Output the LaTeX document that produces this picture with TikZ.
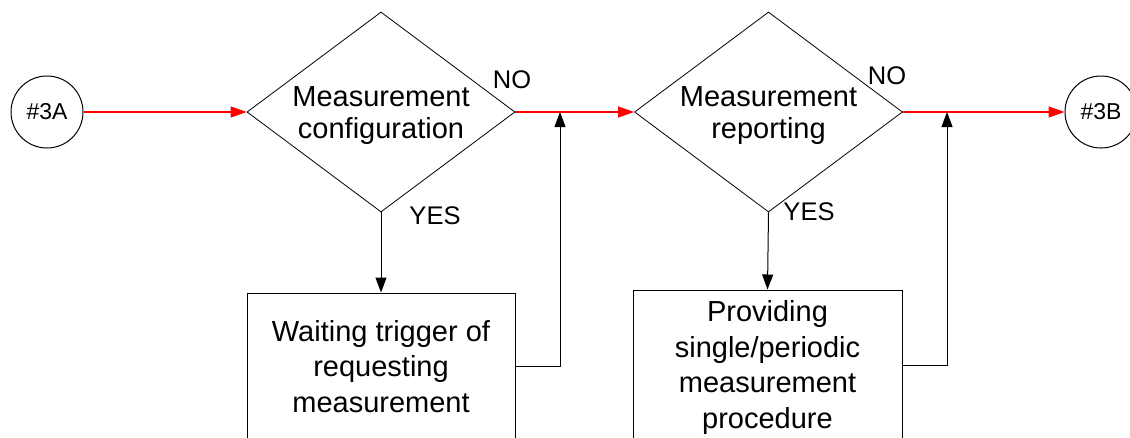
\documentclass[tikz,border=0pt]{standalone}
\usepackage{fontspec}
\setmainfont{Liberation Sans}
\usetikzlibrary{shapes.geometric,arrows.meta}
\newcommand{\topstrut}{\rule{0pt}{27pt}}
\tikzset{
  conn/.style={circle,draw,line width=1pt,minimum size=72pt,inner sep=0pt,font=\fontsize{23}{26}\selectfont},
  decision/.style={diamond,draw,line width=0.8pt,aspect=1.34,inner sep=0pt,minimum width=268pt,minimum height=200pt,align=center,font=\fontsize{29}{32.5}\selectfont},
  procbox/.style={rectangle,draw,line width=1pt,inner sep=0pt,align=center,font=\fontsize{29}{35.5}\selectfont},
  lbl/.style={inner sep=0pt,font=\fontsize{25.5}{28}\selectfont},
  redarr/.style={draw=red,line width=1.2pt,-{Triangle[length=16pt,width=11pt]},red},
  blkarr/.style={draw=black,line width=1pt,-{Triangle[length=15pt,width=11pt]}},
}
\begin{document}
\begin{tikzpicture}[x=1pt,y=-1pt]
\useasboundingbox (0,0) rectangle (1130,437);
\node[conn] (c3a) at (47,112) {\#3A};
\node[conn] (c3b) at (1101,112) {\#3B};
\node[decision] (d1) at (381,112) {\topstrut Measurement\\configuration};
\node[decision] (d2) at (768.5,112) {\topstrut Measurement\\reporting};
\node[procbox,minimum width=268pt,minimum height=147pt] (b1) at (381,366.5) {Waiting trigger of\\requesting\\measurement};
\node[procbox,minimum width=269pt,minimum height=150pt] (b2) at (767.5,365) {\rule{0pt}{26pt}Providing\\single/periodic\\measurement\\procedure};
\node[lbl] (no1) at (512,80) {NO};
\node[lbl] (yes1) at (435,216) {YES};
\node[lbl] (no2) at (887,76) {NO};
\node[lbl] (yes2) at (809,212) {YES};
\coordinate (j1) at (560,112);
\coordinate (j2) at (947,112);
\draw[redarr] (c3a.east) -- (d1.west);
\draw[redarr] (d1.east) -- (d2.west);
\draw[redarr] (d2.east) -- (c3b.west);
\draw[blkarr] (d1.south) -- (b1.north);
\draw[blkarr] (d2.south) -- (b2.north);
\draw[blkarr] (b1.east) -| (j1);
\draw[blkarr] (b2.east) -| (j2);
\end{tikzpicture}
\end{document}
